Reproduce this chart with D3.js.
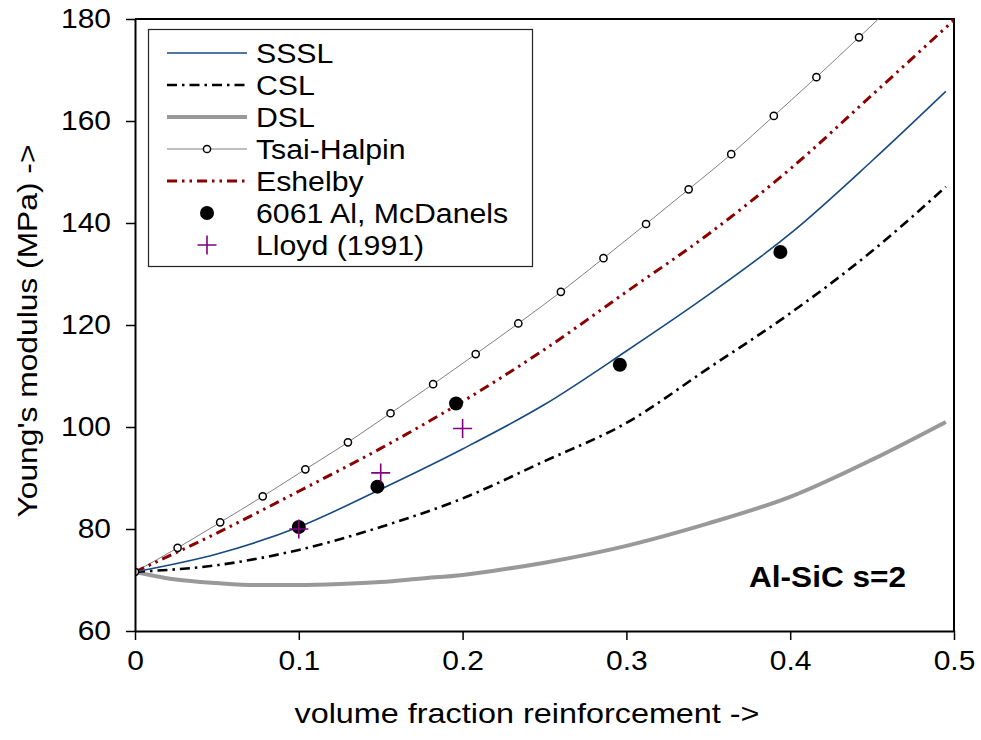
<!DOCTYPE html>
<html>
<head>
<meta charset="utf-8">
<script src="https://cdn.jsdelivr.net/npm/d3@7/dist/d3.min.js"></script>
<style>
  html, body { margin: 0; padding: 0; background: #fff; }
  svg { display: block; font-family: "Liberation Sans", Arial, Helvetica, sans-serif; }
</style>
</head>
<body>
<svg id="chart" width="981" height="740"></svg>
<script>
// ---------- DATA ----------
const xTicks = [0, 0.1, 0.2, 0.3, 0.4, 0.5];
const yTicks = [60, 80, 100, 120, 140, 160, 180];

const ssslX = [0, 0.05, 0.1, 0.15, 0.2, 0.25, 0.3, 0.35, 0.4, 0.45, 0.495];
const ssslY = [71.6, 75.1, 80.4, 87.8, 95.7, 104.4, 114.9, 125.9, 137.9, 152.2, 165.8];

const cslX = [0, 0.05, 0.1, 0.15, 0.2, 0.25, 0.3, 0.35, 0.4, 0.45, 0.495];
const cslY = [71.6, 72.9, 75.9, 80.4, 86.0, 93.3, 100.8, 111.5, 122.3, 134.5, 147.1];

const dslX = [0, 0.025, 0.05, 0.075, 0.1, 0.125, 0.15, 0.175, 0.2, 0.225, 0.25, 0.3, 0.35, 0.4, 0.45, 0.495];
const dslY = [71.6, 70.1, 69.4, 69.0, 69.0, 69.2, 69.6, 70.3, 71.0, 72.1, 73.4, 76.7, 81.1, 86.3, 93.6, 101.0];

const tsaiX = [0, 0.026, 0.052, 0.078, 0.104, 0.13, 0.156, 0.182, 0.208, 0.234, 0.26, 0.286, 0.312, 0.338, 0.364, 0.39, 0.416, 0.442, 0.468];
const tsaiY = [71.6, 76.3, 81.3, 86.4, 91.7, 97.0, 102.7, 108.4, 114.3, 120.3, 126.5, 133.1, 139.8, 146.6, 153.5, 161.0, 168.6, 176.4, 184.3];

const eshX = [0, 0.05, 0.1, 0.15, 0.2, 0.25, 0.3, 0.35, 0.4, 0.45, 0.5];
const eshY = [71.6, 79.2, 87.4, 95.8, 105.0, 115.2, 126.5, 137.8, 150.6, 165.1, 179.8];

const mcdX = [0.1, 0.148, 0.196, 0.296, 0.394];
const mcdY = [80.4, 88.3, 104.6, 112.2, 134.3];

const lloydX = [0.1, 0.15, 0.2];
const lloydY = [80.0, 91.0, 99.7];

const legendLabels = ["SSSL", "CSL", "DSL", "Tsai-Halpin", "Eshelby", "6061 Al, McDanels", "Lloyd (1991)"];
const xTitle = "volume fraction reinforcement ->";
const yTitle = "Young's modulus (MPa) ->";
const note = "Al-SiC s=2";

// ---------- LAYOUT ----------
const svg = d3.select("#chart");
const W = 981, H = 740;
const m = { left: 135, top: 19, right: 27, bottom: 109 };
const pw = W - m.left - m.right, ph = H - m.top - m.bottom;

const x = d3.scaleLinear().domain([0, 0.5]).range([m.left, m.left + pw]);
const y = d3.scaleLinear().domain([60, 180]).range([m.top + ph, m.top]);

const styles = {
  sssl: { stroke: "#174a80", width: 1.6, dash: null },
  csl:  { stroke: "#000000", width: 2.6, dash: "10,5,2.5,5" },
  dsl:  { stroke: "#999999", width: 4, dash: null },
  tsai: { stroke: "#808080", width: 1, dash: null },
  esh:  { stroke: "#8b0000", width: 3, dash: "10,5,2.5,5,2.5,5" }
};

svg.append("defs").append("clipPath").attr("id", "plotclip")
  .append("rect").attr("x", m.left).attr("y", m.top).attr("width", pw).attr("height", ph);

// frame (top & right)
svg.append("path")
  .attr("d", `M${m.left},${m.top}H${m.left + pw}V${m.top + ph}`)
  .attr("fill", "none").attr("stroke", "#000").attr("stroke-width", 2);

const plot = svg.append("g").attr("clip-path", "url(#plotclip)");

function zip(xs, ys) { return xs.map((v, i) => [v, ys[i]]); }
const line = d3.line().x(d => x(d[0])).y(d => y(d[1])).curve(d3.curveMonotoneX);

function drawLine(xs, ys, st) {
  const p = plot.append("path").datum(zip(xs, ys))
    .attr("d", line).attr("fill", "none")
    .attr("stroke", st.stroke).attr("stroke-width", st.width)
    .attr("stroke-linejoin", "round");
  if (st.dash) p.attr("stroke-dasharray", st.dash);
}

drawLine(dslX, dslY, styles.dsl);
drawLine(cslX, cslY, styles.csl);
drawLine(tsaiX, tsaiY, styles.tsai);
drawLine(eshX, eshY, styles.esh);
drawLine(ssslX, ssslY, styles.sssl);

// Tsai-Halpin markers
plot.selectAll("circle.tsai").data(zip(tsaiX, tsaiY)).enter().append("circle")
  .attr("class", "tsai")
  .attr("cx", d => x(d[0])).attr("cy", d => y(d[1])).attr("r", 3.6)
  .attr("fill", "#fff").attr("stroke", "#000").attr("stroke-width", 1.5);

// McDanels points
plot.selectAll("circle.mcd").data(zip(mcdX, mcdY)).enter().append("circle")
  .attr("class", "mcd")
  .attr("cx", d => x(d[0])).attr("cy", d => y(d[1])).attr("r", 7)
  .attr("fill", "#000");

// Lloyd points
const plusPath = (cx, cy, s) => `M${cx - s},${cy}H${cx + s}M${cx},${cy - s}V${cy + s}`;
plot.selectAll("path.lloyd").data(zip(lloydX, lloydY)).enter().append("path")
  .attr("class", "lloyd")
  .attr("d", d => plusPath(x(d[0]), y(d[1]), 9.5))
  .attr("stroke", "#800080").attr("stroke-width", 1.6).attr("fill", "none");

// ---------- AXES ----------
const fmt = d => (d === 0 ? "0" : String(d));
const gx = svg.append("g").attr("transform", `translate(0,${m.top + ph})`)
  .call(d3.axisBottom(x).tickValues(xTicks).tickFormat(fmt).tickSize(9).tickSizeOuter(0).tickPadding(10));
const gy = svg.append("g").attr("transform", `translate(${m.left},0)`)
  .call(d3.axisLeft(y).tickValues(yTicks).tickSize(9).tickSizeOuter(0).tickPadding(15));

[gx, gy].forEach(g => {
  g.select(".domain").attr("stroke", "#000").attr("stroke-width", 2);
  g.selectAll(".tick line").attr("stroke", "#000").attr("stroke-width", 1.5);
  g.selectAll(".tick text").attr("fill", "#000").attr("font-size", 28)
    .attr("font-family", "'Liberation Sans', Arial, sans-serif").classed("stretch107", true);
});

// titles
svg.append("text").attr("x", 527).attr("y", 723).attr("text-anchor", "middle")
  .attr("font-size", 28).attr("fill", "#000").attr("data-w", 465).text(xTitle);
svg.append("text").attr("transform", "translate(37,331) rotate(-90)").attr("text-anchor", "middle")
  .attr("font-size", 28).attr("fill", "#000").attr("data-w", 373).text(yTitle);

// annotation
svg.append("text").attr("x", 749).attr("y", 587).attr("text-anchor", "start")
  .attr("font-size", 29).attr("font-weight", "bold").attr("fill", "#000").attr("data-w", 157).text(note);

// ---------- LEGEND ----------
const lg = svg.append("g");
lg.append("rect").attr("x", 148.5).attr("y", 29.5).attr("width", 384).attr("height", 237)
  .attr("fill", "#fff").attr("stroke", "#222").attr("stroke-width", 1.2);

const rowY = i => 53 + i * 32;
const lx0 = 167, lx1 = 247, lxm = 207;
const legendKeys = ["sssl", "csl", "dsl", "tsai", "esh", "mcd", "lloyd"];
legendKeys.forEach((k, i) => {
  const yy = rowY(i);
  if (styles[k]) {
    const st = styles[k];
    const p = lg.append("line").attr("x1", lx0).attr("x2", lx1).attr("y1", yy).attr("y2", yy)
      .attr("stroke", st.stroke).attr("stroke-width", st.width);
    if (st.dash) p.attr("stroke-dasharray", st.dash);
    if (k === "tsai") {
      lg.append("circle").attr("cx", lxm).attr("cy", yy).attr("r", 3.6)
        .attr("fill", "#fff").attr("stroke", "#000").attr("stroke-width", 1.5);
    }
  } else if (k === "mcd") {
    lg.append("circle").attr("cx", lxm).attr("cy", yy).attr("r", 7).attr("fill", "#000");
  } else if (k === "lloyd") {
    lg.append("path").attr("d", plusPath(lxm, yy, 9.5))
      .attr("stroke", "#800080").attr("stroke-width", 1.6).attr("fill", "none");
  }
  lg.append("text").attr("x", 256).attr("y", yy + 10).attr("font-size", 27)
    .attr("fill", "#000").classed("stretch112", true).text(legendLabels[i]);
});

// ---------- text width adjustment (wide rendering of the original) ----------
svg.selectAll("text").each(function () {
  const el = this, s = d3.select(this);
  let target = null;
  if (s.attr("data-w")) target = +s.attr("data-w");
  else if (s.classed("stretch107")) target = el.getComputedTextLength() * 1.07;
  else if (s.classed("stretch112")) target = el.getComputedTextLength() * 1.12;
  if (target) s.attr("textLength", target).attr("lengthAdjust", "spacingAndGlyphs");
});
</script>
</body>
</html>
